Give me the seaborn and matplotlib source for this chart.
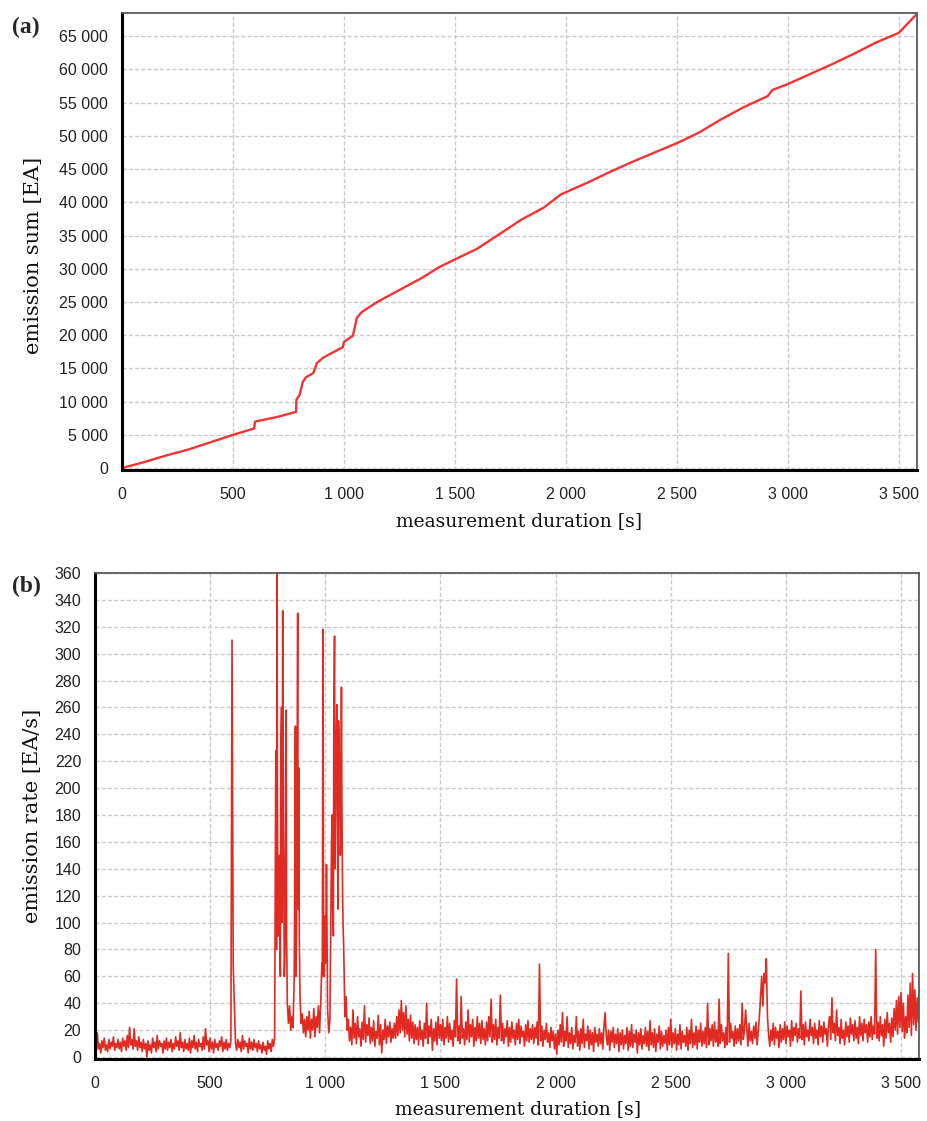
import numpy as np
import pandas as pd
import seaborn as sns
import matplotlib.pyplot as plt
from matplotlib.ticker import MultipleLocator, FuncFormatter

###############################################################################
# Data
###############################################################################
# (a) cumulative emission sum [EA] vs measurement duration [s]
SUM_T = [0, 100, 200, 300, 400, 500, 595, 600, 700, 784, 786, 800, 815, 830,
         862, 878, 906, 950, 995, 1000, 1040, 1058, 1081, 1150, 1250, 1350,
         1432, 1500, 1600, 1700, 1800, 1900, 1978, 2100, 2200, 2300, 2400,
         2500, 2600, 2700, 2800, 2910, 2930, 3000, 3100, 3200, 3300, 3400,
         3500, 3580]
SUM_EA = [0, 900, 1900, 2800, 3900, 5000, 5950, 7000, 7700, 8450, 10300,
          11000, 13000, 13700, 14300, 15800, 16600, 17400, 18200, 19000,
          19900, 22600, 23500, 25000, 26800, 28600, 30300, 31400, 33000,
          35200, 37400, 39200, 41200, 43000, 44600, 46100, 47500, 48900,
          50500, 52500, 54300, 56000, 56900, 57800, 59300, 60800, 62400,
          64100, 65500, 68300]

# (b) emission rate [EA/s], one value every RATE_STEP seconds (rows = 100 s)
RATE_STEP = 5
RATE = [
    12, 4, 18, 6, 10, 3, 12, 7, 14, 5, 9, 4, 13, 6, 11, 8, 15, 5, 10, 7,
    13, 6, 11, 4, 14, 8, 12, 5, 16, 7, 22, 9, 13, 6, 21, 8, 12, 5, 15, 7,
    11, 4, 13, 6, 10, 0, 12, 5, 9, 3, 14, 7, 11, 4, 16, 6, 12, 8, 10, 3,
    12, 6, 14, 5, 11, 7, 13, 4, 10, 6, 15, 8, 12, 5, 18, 7, 11, 4, 13, 6,
    10, 5, 14, 3, 12, 7, 16, 6, 11, 4, 13, 8, 10, 5, 15, 6, 21, 9, 12, 4,
    14, 6, 11, 3, 13, 7, 10, 5, 12, 8, 15, 4, 11, 6, 13, 5, 10, 7, 12, 310,
    68, 38, 10, 5, 13, 7, 11, 4, 16, 6, 12, 8, 10, 3, 14, 6, 11, 5, 13, 7,
    10, 4, 12, 6, 9, 3, 11, 5, 8, 2, 12, 6, 10, 4, 13, 8, 15, 228, 360, 90,
    150, 60, 260, 332, 120, 80, 258, 40, 25, 38, 20, 30, 22, 60, 246, 90, 330, 215, 45, 25,
    32, 18, 28, 15, 30, 20, 34, 14, 28, 20, 36, 15, 30, 22, 38, 18, 40, 70, 318, 60,
    105, 143, 35, 18, 28, 120, 180, 90, 313, 200, 262, 110, 240, 150, 275, 120, 80, 30, 45, 20,
    28, 12, 22, 9, 35, 14, 25, 10, 30, 15, 21, 8, 26, 13, 38, 11, 24, 16, 29, 10,
    22, 12, 27, 8, 19, 14, 31, 9, 24, 3, 20, 13, 28, 10, 23, 15, 26, 11, 21, 14,
    25, 14, 30, 16, 35, 18, 42, 20, 33, 15, 38, 17, 28, 12, 31, 14, 26, 10, 24, 13,
    22, 9, 27, 13, 20, 8, 25, 14, 40, 10, 23, 15, 28, 5, 21, 12, 26, 9, 30, 14,
    24, 12, 28, 9, 22, 14, 30, 11, 25, 13, 20, 8, 27, 15, 58, 12, 23, 10, 45, 14,
    21, 9, 26, 13, 35, 11, 24, 15, 28, 8, 22, 12, 30, 14, 25, 10, 27, 13, 21, 9,
    26, 12, 30, 15, 43, 11, 24, 13, 28, 9, 22, 14, 46, 12, 25, 10, 21, 15, 27, 8,
    22, 11, 26, 14, 20, 9, 25, 13, 28, 10, 23, 15, 19, 8, 24, 12, 27, 11, 21, 13,
    24, 10, 22, 14, 26, 9, 69, 12, 23, 8, 20, 13, 25, 11, 18, 7, 22, 12, 19, 6,
    17, 2, 20, 9, 24, 11, 33, 8, 19, 12, 30, 7, 18, 10, 22, 6, 16, 11, 30, 8,
    19, 5, 21, 10, 28, 7, 17, 12, 23, 6, 20, 9, 18, 4, 22, 11, 17, 8, 21, 10,
    18, 6, 23, 33, 16, 9, 20, 5, 19, 11, 22, 7, 17, 10, 21, 4, 18, 9, 20, 6,
    16, 10, 22, 5, 19, 8, 24, 7, 17, 11, 20, 3, 18, 9, 21, 6, 16, 10, 22, 8,
    19, 5, 27, 9, 18, 7, 21, 4, 17, 11, 23, 6, 19, 8, 16, 10, 20, 5, 22, 9,
    28, 7, 18, 10, 21, 5, 17, 9, 24, 6, 19, 11, 16, 8, 22, 5, 20, 10, 28, 7,
    18, 9, 23, 6, 20, 11, 25, 8, 19, 10, 22, 7, 40, 9, 21, 12, 24, 8, 26, 11,
    20, 8, 43, 10, 24, 12, 18, 7, 22, 9, 77, 11, 25, 14, 19, 8, 23, 10, 21, 12,
    24, 9, 40, 13, 20, 35, 22, 8, 25, 12, 19, 10, 23, 14, 26, 9, 20, 30, 45, 60,
    38, 62, 55, 73, 30, 16, 8, 20, 12, 25, 9, 22, 14, 19, 7, 24, 11, 21, 13, 26,
    10, 23, 15, 20, 8, 27, 12, 22, 16, 25, 11, 21, 14, 49, 13, 24, 9, 26, 15, 20,
    12, 28, 16, 22, 10, 25, 14, 20, 9, 27, 15, 23, 11, 26, 17, 21, 8, 24, 30, 13,
    44, 18, 25, 12, 35, 16, 22, 10, 28, 14, 20, 9, 26, 15, 23, 11, 29, 17, 24, 12,
    27, 14, 22, 10, 30, 16, 25, 12, 28, 18, 24, 11, 26, 15, 30, 13, 23, 17, 80, 14,
    26, 12, 30, 16, 24, 8, 28, 14, 33, 18, 25, 11, 29, 15, 36, 20, 42, 17, 45, 22,
    48, 19, 40, 14, 30, 18, 46, 22, 55, 16, 62, 24, 50, 20, 44, 26, 58, 30, 38, 33,
]
# extra readings inside the dense burst clusters (between the 5 s samples)
BURST_T = [782, 788, 792, 797, 802, 807, 812, 817, 822, 827, 832, 867, 872,
           877, 882, 887, 987, 992, 997, 1002, 1007, 1027, 1032, 1037, 1042,
           1047, 1052, 1057, 1062, 1067, 1072, 1077]
BURST_V = [100, 80, 200, 140, 90, 230, 100, 180, 60, 200, 90, 120, 60, 180,
           110, 90, 60, 120, 90, 70, 100, 160, 110, 250, 140, 230, 180, 250,
           200, 160, 190, 100]

dfSum = pd.DataFrame({'t': SUM_T, 'ea': SUM_EA})
dfRate = pd.concat([
    pd.DataFrame({'t': np.arange(len(RATE)) * RATE_STEP, 'rate': RATE}),
    pd.DataFrame({'t': BURST_T, 'rate': BURST_V}),
]).sort_values('t').reset_index(drop=True)

###############################################################################
# Style
###############################################################################
sns.set_style('white')
plt.rcParams['font.family'] = ['Liberation Sans', 'DejaVu Sans']
XLBL_FONT = dict(family='DejaVu Serif', size=13.5, color='#111111')
YLBL_FONT = dict(family='DejaVu Serif', size=15, color='#111111')
TCK_CLR = '#222222'
GRID_CLR = '#cccccc'
thousands = FuncFormatter(lambda v, p: '{:,}'.format(int(round(v))).replace(',', ' '))

fig = plt.figure(figsize=(9.28, 11.21), dpi=100)
axA = fig.add_axes([0.1315, 0.5807, 0.8566, 0.4077])
axB = fig.add_axes([0.1024, 0.0553, 0.8879, 0.4336])

sns.lineplot(data=dfSum, x='t', y='ea', ax=axA, color='#f23434',
             linewidth=1.7, estimator=None, sort=False)
sns.lineplot(data=dfRate, x='t', y='rate', ax=axB, color='#e12b22',
             linewidth=1.2, estimator=None, sort=False)

axA.set_xlim(0, 3582)
axA.set_ylim(-300, 68500)
axA.yaxis.set_major_locator(MultipleLocator(5000))
axA.yaxis.set_minor_locator(MultipleLocator(1000))
axB.set_xlim(0, 3578)
axB.set_ylim(-1.5, 360)
axB.yaxis.set_major_locator(MultipleLocator(20))
axB.yaxis.set_minor_locator(MultipleLocator(5))

for ax in (axA, axB):
    ax.xaxis.set_major_locator(MultipleLocator(500))
    ax.xaxis.set_minor_locator(MultipleLocator(100))
    ax.xaxis.set_major_formatter(thousands)
    ax.yaxis.set_major_formatter(thousands)
    ax.grid(True, which='major', color=GRID_CLR, linestyle=(0, (3, 1.5)), linewidth=1.0)
    ax.set_axisbelow(True)
    ax.tick_params(which='major', direction='out', length=5, width=1.2,
                   labelsize=11.5, labelcolor=TCK_CLR, color='#333333', pad=5)
    ax.tick_params(which='minor', direction='out', length=3, width=0.8, color='#555555')
    ax.tick_params(axis='x', which='major', pad=7)
    for s in ('left', 'bottom'):
        ax.spines[s].set_linewidth(2.2)
        ax.spines[s].set_color('#000000')
    for s in ('top', 'right'):
        ax.spines[s].set_linewidth(1.3)
        ax.spines[s].set_color('#5a5a5a')
    ax.set_xlabel('measurement duration [s]', fontdict=XLBL_FONT)

axA.set_ylabel('emission sum [EA]', fontdict=YLBL_FONT)
axB.set_ylabel('emission rate [EA/s]', fontdict=YLBL_FONT)
axA.yaxis.set_label_coords(-0.099, 0.47)
axB.yaxis.set_label_coords(-0.064, 0.5)
axA.xaxis.set_label_coords(0.5, -0.092)
axB.xaxis.set_label_coords(0.513, -0.084)

fig.text(12 / 928, 1 - 27 / 1121, '(a)', family='Liberation Serif',
         weight='bold', size=17, va='center', ha='left')
fig.text(12 / 928, 1 - 586 / 1121, '(b)', family='Liberation Serif',
         weight='bold', size=17, va='center', ha='left')

fig.savefig('out.png', dpi=100)
